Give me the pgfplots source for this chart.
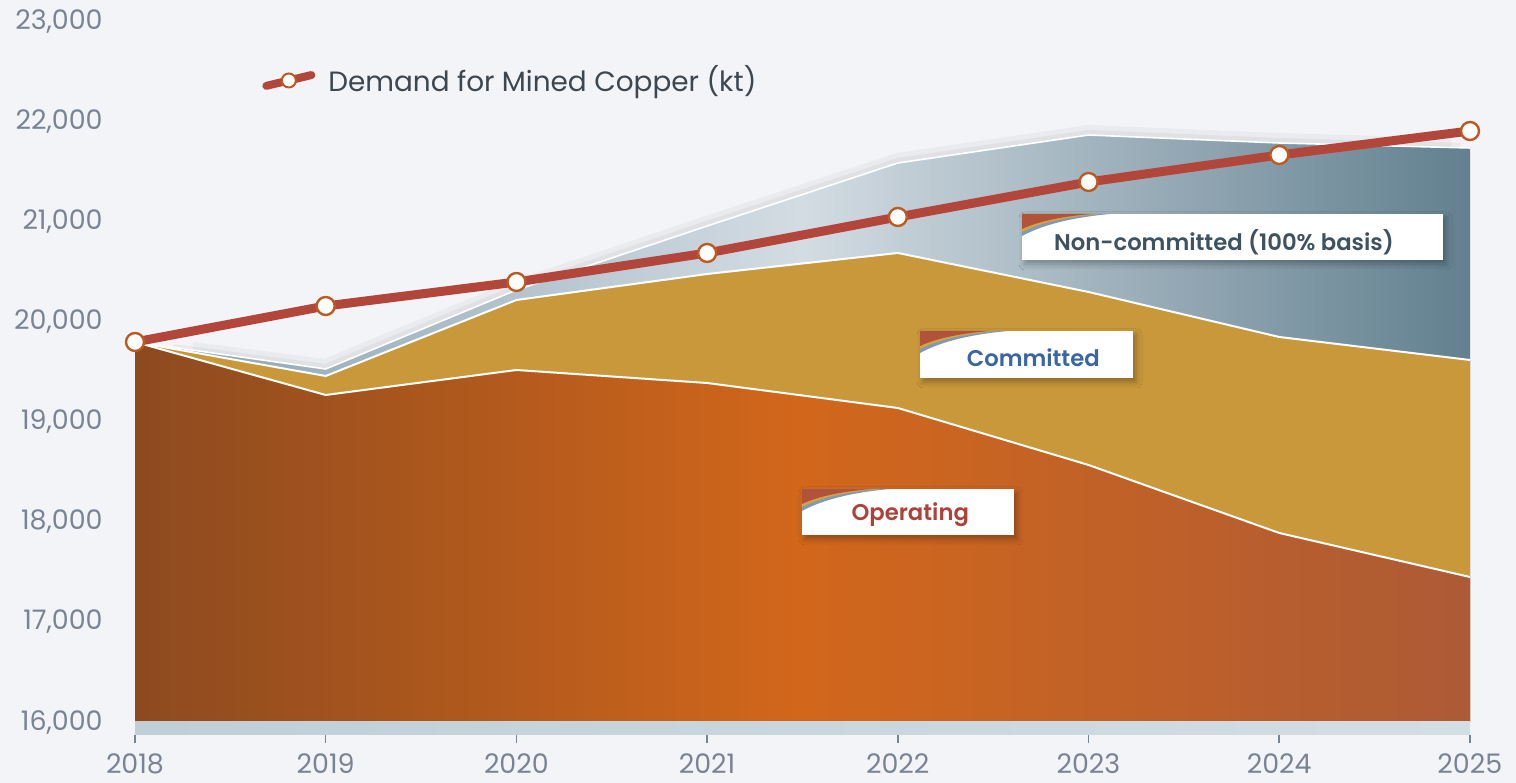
\documentclass[border=0pt]{standalone}
\usepackage{pgfplots}
\pgfplotsset{compat=1.18}
\usepackage{fontspec}
\setmainfont{Poppins}
\newfontfamily\labelfont{Poppins SemiBold}
\usetikzlibrary{shadows.blur}
\definecolor{bg}{HTML}{F2F4F7}
\definecolor{tickgrey}{HTML}{7A8394}
\definecolor{opA}{HTML}{8D4A1F}
\definecolor{opB}{HTML}{D2671B}
\definecolor{opC}{HTML}{AD5A36}
\definecolor{comm}{HTML}{C9983A}
\definecolor{ncA}{HTML}{8AA2B3}
\definecolor{ncB}{HTML}{D3DCE3}
\definecolor{ncC}{HTML}{62808F}
\definecolor{stripA}{HTML}{BFCED7}
\definecolor{stripB}{HTML}{D3DEE4}
\definecolor{demand}{HTML}{B3463B}
\definecolor{markedge}{HTML}{BC5A22}
\definecolor{nctext}{HTML}{3E5260}
\definecolor{comtext}{HTML}{3A67A3}
\definecolor{optext}{HTML}{AD4239}
\definecolor{legtext}{HTML}{3E4650}
\definecolor{sbrown}{HTML}{B0533A}
\definecolor{sgold}{HTML}{D6A33C}
\definecolor{sblue}{HTML}{7C9BB9}
\tikzset{
  labelbox/.style={fill=white, inner sep=0pt, outer sep=0pt,
    blur shadow={shadow xshift=1.5bp, shadow yshift=-2bp, shadow blur radius=3bp, shadow opacity=30},
    path picture={
      \coordinate (nw) at (path picture bounding box.north west);
      \fill[sblue] (nw) -- ([yshift=-11bp]nw) .. controls ([xshift=11bp,yshift=-5bp]nw) and ([xshift=26.4bp,yshift=-1.6bp]nw) .. ([xshift=44bp]nw) -- cycle;
      \fill[sgold] (nw) -- ([yshift=-9bp]nw) .. controls ([xshift=9.75bp,yshift=-4bp]nw) and ([xshift=23.4bp,yshift=-1.3bp]nw) .. ([xshift=39bp]nw) -- cycle;
      \fill[sbrown] (nw) -- ([yshift=-7.5bp]nw) .. controls ([xshift=8.75bp,yshift=-3.4bp]nw) and ([xshift=21bp,yshift=-1.1bp]nw) .. ([xshift=35bp]nw) -- cycle;
    }},
  labeltext/.style={font=\labelfont\fontsize{11.4}{13}\selectfont, inner sep=0pt}
}
\begin{document}
\begin{tikzpicture}
\fill[bg] (0,0) rectangle (758bp,391.5bp);
\path[use as bounding box] (0,0) rectangle (758bp,391.5bp);
\begin{axis}[
  at={(67.5bp,24bp)}, anchor=south west, scale only axis,
  width=667.5bp, height=356.5bp,
  xmin=2018, xmax=2025, ymin=15870, ymax=23000,
  clip=false,
  axis line style={draw=none},
  xtick={2018,2019,...,2025}, ytick={16000,17000,...,23000},
  xtick pos=bottom, ytick pos=left,
  xtick align=outside, ytick align=inside,
  major tick length=4bp,
  xtick style={draw=tickgrey, line width=0.75bp},
  ytick style={draw=none},
  scaled y ticks=false,
  /pgf/number format/assume math mode=true,
  x tick label style={/pgf/number format/1000 sep={}, anchor=north, inner sep=0pt, yshift=-5bp},
  y tick label style={/pgf/number format/1000 sep={,}, anchor=east, inner sep=0pt, xshift=-16bp},
  tick label style={font=\fontsize{13.5}{16}\selectfont, text=tickgrey},
  legend style={at={(0.0951,0.918)}, anchor=west, draw=none, fill=none, inner sep=0pt,
    font=\fontsize{14}{16}\selectfont, text=legtext, nodes={inner sep=0pt}},
  legend cell align=left,
]
% soft shadow above the stack
\addplot[forget plot, black, opacity=0.035, line width=10bp]
  coordinates {(2018.3,19700) (2019,19530) (2020,20320) (2021,20960) (2022,21590) (2023,21870) (2024,21790) (2024.9,21740)};
\addplot[forget plot, black, opacity=0.04, line width=5bp]
  coordinates {(2018.2,19730) (2019,19530) (2020,20320) (2021,20960) (2022,21590) (2023,21870) (2024,21790) (2024.95,21740)};
% Non-committed (top of stack)
\addplot[forget plot, draw=none, left color=ncA, right color=ncC, middle color=ncB]
  coordinates {(2018,16000) (2018,19800) (2019,19530) (2020,20320) (2021,20960) (2022,21590) (2023,21870) (2024,21790) (2025,21740) (2025,16000)} -- cycle;
% Committed
\addplot[forget plot, draw=none, fill=comm]
  coordinates {(2018,16000) (2018,19800) (2019,19460) (2020,20220) (2021,20480) (2022,20690) (2023,20300) (2024,19850) (2025,19620) (2025,16000)} -- cycle;
% Operating
\addplot[forget plot, draw=none, left color=opA, right color=opC, middle color=opB]
  coordinates {(2018,16000) (2018,19800) (2019,19270) (2020,19520) (2021,19390) (2022,19140) (2023,18570) (2024,17890) (2025,17450) (2025,16000)} -- cycle;
% white boundaries
\addplot[forget plot, white, line width=0.8bp]
  coordinates {(2018,19800) (2019,19530) (2020,20320) (2021,20960) (2022,21590) (2023,21870) (2024,21790) (2025,21740)};
\addplot[forget plot, white, line width=1bp]
  coordinates {(2018,19800) (2019,19460) (2020,20220) (2021,20480) (2022,20690) (2023,20300) (2024,19850) (2025,19620)};
\addplot[forget plot, white, line width=1bp]
  coordinates {(2018,19800) (2019,19270) (2020,19520) (2021,19390) (2022,19140) (2023,18570) (2024,17890) (2025,17450)};
% bottom strip
\addplot[forget plot, draw=none, left color=stripA, right color=stripB]
  coordinates {(2018,15870) (2025,15870) (2025,16000) (2018,16000)} -- cycle;
% Demand
\addplot[demand, line width=4.5bp, mark=*, mark size=4.5bp,
  mark options={fill=white, draw=markedge, line width=1.2bp},
  legend image code/.code={
    \draw[demand, line width=4bp, line cap=round] (2bp,-2.7bp) -- (24.5bp,2.7bp);
    \draw[fill=white, draw=markedge, line width=1bp] (13.25bp,0bp) circle (3.5bp);}]
  coordinates {(2018,19800) (2019,20160) (2020,20400) (2021,20690) (2022,21050) (2023,21400) (2024,21670) (2025,21910)};
\addlegendentry{\hspace{6.5bp}Demand for Mined Copper (kt)}
% Labels
\node[labelbox, minimum width=210.5bp, minimum height=23bp] at (axis cs:2023.755,20850) {};
\node[labeltext, text=nctext] at (axis cs:2023.71,20800) {Non-committed (100\% basis)};
\node[labelbox, minimum width=106.5bp, minimum height=23.5bp] at (axis cs:2022.675,19675) {};
\node[labeltext, text=comtext] at (axis cs:2022.71,19645) {Committed};
\node[labelbox, minimum width=106bp, minimum height=23bp] at (axis cs:2022.053,18100) {};
\node[labeltext, text=optext] at (axis cs:2022.065,18075) {Operating};
\end{axis}
\end{tikzpicture}
\end{document}
